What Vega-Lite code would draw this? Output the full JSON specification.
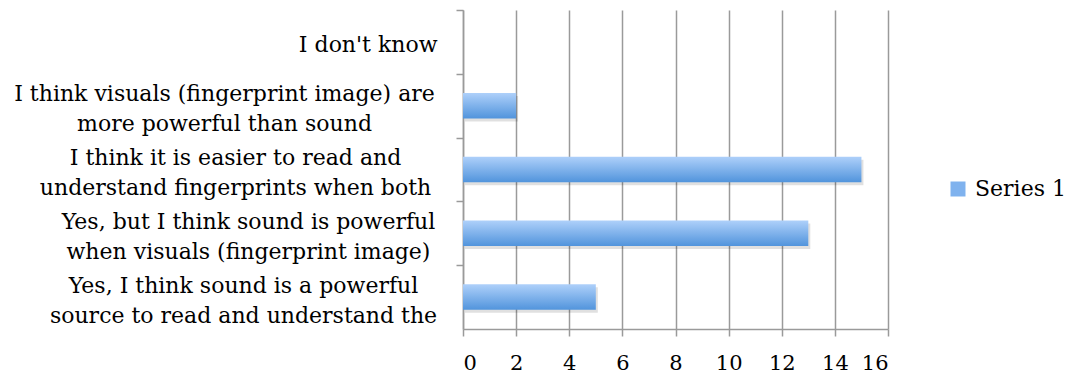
{
  "$schema": "https://vega.github.io/schema/vega-lite/v6.json",
  "width": 425,
  "height": 319,
  "autosize": {"type": "none"},
  "padding": {"left": 463, "top": 10, "right": 179, "bottom": 49},
  "background": "white",
  "data": {
    "values": [
      {"answer": "I don't know", "count": 0, "series": "Series 1"},
      {"answer": "I think visuals (fingerprint image) are|more powerful than sound", "count": 2, "series": "Series 1"},
      {"answer": "I think it is easier to read and|understand fingerprints when both", "count": 15, "series": "Series 1"},
      {"answer": "Yes, but I think sound is powerful|when visuals (fingerprint image)", "count": 13, "series": "Series 1"},
      {"answer": "Yes, I think sound is a powerful|source to read and understand the", "count": 5, "series": "Series 1"}
    ]
  },
  "encoding": {
    "y": {
      "field": "answer",
      "type": "nominal",
      "sort": null,
      "scale": {"paddingInner": 0.6, "paddingOuter": 0.3},
      "axis": {
        "title": null,
        "labelExpr": "split(datum.label, '|')",
        "labelFont": "DejaVu Serif",
        "labelFontSize": 22,
        "labelLineHeight": 30,
        "labelColor": "#000000",
        "labelLimit": 0,
        "labelAlign": {"condition": {"test": "datum.value === \"I don't know\"", "value": "right"}, "value": "center"},
        "labelPadding": {
          "condition": [
            {"test": "datum.value === \"I don't know\"", "value": 19},
            {"test": "indexof(datum.value, 'visuals (fingerprint image) are') >= 0", "value": 232},
            {"test": "indexof(datum.value, 'easier') >= 0", "value": 221},
            {"test": "indexof(datum.value, 'Yes, but') >= 0", "value": 208}
          ],
          "value": 213
        },
        "tickOffset": -31.9,
        "labelOffset": {"condition": {"test": "datum.value === \"I don't know\"", "value": 34.9}, "value": 19.9},
        "tickSize": 7,
        "tickColor": "#9a9a9a",
        "tickWidth": 1.5,
        "domainColor": "#9a9a9a",
        "domainWidth": 1.5,
        "grid": false
      }
    },
    "x": {
      "field": "count",
      "type": "quantitative",
      "scale": {"domain": [0, 16], "nice": false},
      "axis": {
        "title": null,
        "values": [0, 2, 4, 6, 8, 10, 12, 14, 16],
        "labelFont": "DejaVu Serif",
        "labelFontSize": 21,
        "labelColor": "#000000",
        "labelPadding": 16,
        "tickSize": 7,
        "tickColor": "#9a9a9a",
        "tickWidth": 1.5,
        "domainColor": "#9a9a9a",
        "domainWidth": 1.5,
        "grid": true,
        "gridColor": "#9a9a9a",
        "gridWidth": 1.5
      }
    }
  },
  "layer": [
    {
      "mark": {"type": "bar", "color": "#000000", "opacity": 0.12, "xOffset": 2, "yOffset": 3}
    },
    {
      "mark": {
        "type": "bar",
        "color": {"gradient": "linear", "x1": 0, "y1": 0, "x2": 0, "y2": 1, "stops": [{"offset": 0, "color": "#aed0fa"}, {"offset": 1, "color": "#5194dc"}]}
      }
    },
    {
      "mark": {"type": "bar", "opacity": 0},
      "encoding": {
        "color": {
          "field": "series",
          "type": "nominal",
          "scale": {"range": ["#7fb2ee"]},
          "legend": {
            "title": null,
            "orient": "none",
            "legendX": 484,
            "legendY": 168,
            "symbolType": "square",
            "symbolSize": 225,
            "symbolStrokeWidth": 0,
            "symbolOpacity": 1,
            "labelFont": "DejaVu Serif",
            "labelFontSize": 22,
            "labelColor": "#000000",
            "labelOffset": 6
          }
        }
      }
    }
  ],
  "config": {"view": {"stroke": null}}
}
